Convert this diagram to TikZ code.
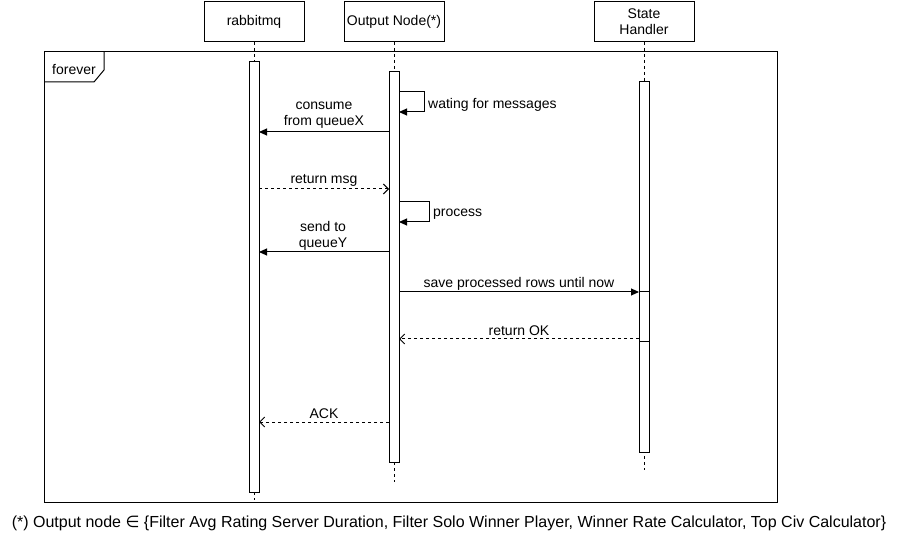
\documentclass[tikz,border=0pt]{standalone}
\usepackage{fontspec}
\setmainfont{Liberation Sans}
\newfontfamily\dejavu{DejaVu Sans}
\usetikzlibrary{arrows.meta}
\begin{document}
\begin{tikzpicture}[x=1pt,y=-1pt,
  every node/.style={font=\fontsize{14}{16}\selectfont},
  hdr/.style={draw, line width=1pt, minimum width=100pt, minimum height=40pt, inner sep=0pt, outer sep=0pt, align=center, fill=white},
  actbox/.style={draw, line width=1pt, fill=white, minimum width=10pt, inner sep=0pt, outer sep=0pt, anchor=north},
  life/.style={dash pattern=on 3pt off 3pt, line width=1pt},
  sync/.style={-{Triangle[length=8pt,width=7pt]}, line width=1pt},
  ret/.style={dash pattern=on 3pt off 3pt, -{Straight Barb[length=5pt,width=10pt]}, line width=1pt},
  lbl/.style={inner sep=0pt, align=center, yshift=-1.5pt}]

\useasboundingbox (0,0) rectangle (897,537);

% frame
\draw[line width=1pt] (44,52) rectangle (777,502);
\draw[line width=1pt] (44,82) -- (94,82) -- (104,70) -- (104,52);
\node[lbl, anchor=west] (fl) at (52,68) {forever};

% headers
\node[hdr] (rmq) at (254,22) {rabbitmq};
\node[hdr] (out) at (394,22) {Output Node(*)};
\node[hdr] (sh) at (644,22) {State\\Handler};

% lifelines
\coordinate (rmqend) at (254,500);
\coordinate (outend) at (394,482);
\coordinate (shend) at (644,470);
\draw[life] (rmq.south) -- (rmqend);
\draw[life] (out.south) -- (outend);
\draw[life] (sh.south) -- (shend);

% activations
\node[actbox, minimum height=430pt] (ra) at (254,62) {};
\node[actbox, minimum height=390pt] (oa) at (394,72) {};
\node[actbox, minimum height=370pt] (sa) at (644,82) {};
\node[actbox, minimum height=50pt] (sa2) at (644,292) {};

% messages
\coordinate (w1) at (399,92);
\coordinate (w2) at (399,112);
\draw[sync] (w1) -- ++(25,0) -- ++(0,20) -- (w2);
\node[lbl, anchor=west] (wl) at (428,103) {wating for messages};

\coordinate (c1) at (389,132);
\coordinate (c2) at (259,132);
\draw[sync] (c1) -- (c2);
\node[lbl] (cl) at (324,114) {consume\\from queueX};

\coordinate (m1) at (259,189);
\coordinate (m2) at (389,189);
\draw[ret] (m1) -- (m2);
\node[lbl] (ml) at (324,179) {return msg};

\coordinate (p1) at (399,202);
\coordinate (p2) at (399,222);
\draw[sync] (p1) -- ++(30,0) -- ++(0,20) -- (p2);
\node[lbl, anchor=west] (pl) at (433,213) {process};

\coordinate (s1) at (389,252);
\coordinate (s2) at (259,252);
\draw[sync] (s1) -- (s2);
\node[lbl] (sl) at (323,234) {send to\\queueY};

\coordinate (v1) at (399,292);
\coordinate (v2) at (639,292);
\draw[sync] (v1) -- (v2);
\node[lbl] (vl) at (519,282) {save processed rows until now};

\coordinate (k1) at (639,339);
\coordinate (k2) at (399,339);
\draw[ret] (k1) -- (k2);
\node[lbl] (kl) at (519,329) {return OK};

\coordinate (a1) at (389,422);
\coordinate (a2) at (259,422);
\draw[ret] (a1) -- (a2);
\node[lbl] (al) at (324,412) {ACK};

% footer
\node[lbl, font=\fontsize{16}{18}\selectfont] (foot) at (449,522) {(*) Output node {\dejavu ∈} \{Filter Avg Rating Server Duration, Filter Solo Winner Player, Winner Rate Calculator, Top Civ Calculator\}};
\end{tikzpicture}
\end{document}
